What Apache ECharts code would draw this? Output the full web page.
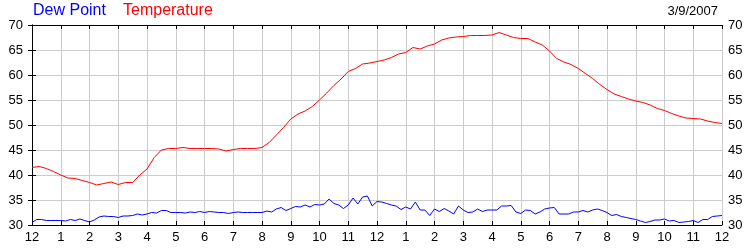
<!DOCTYPE html>
<html>
<head>
<meta charset="utf-8">
<script src="https://cdn.jsdelivr.net/npm/echarts@6/dist/echarts.min.js"></script>
<style>html,body{margin:0;padding:0;background:#fff}#c{width:750px;height:250px}</style>
</head>
<body>
<div id="c"></div>
<script>
// Hours of the day 0..24 (midnight to midnight), tick labels
const hourTicks = ['12','1','2','3','4','5','6','7','8','9','10','11','12','1','2','3','4','5','6','7','8','9','10','11','12'];
const yTicks = [30,35,40,45,50,55,60,65,70];
const dateLabel = '3/9/2007';
const seriesNames = ['Dew Point', 'Temperature'];

// Temperature, one reading every 15 minutes from 12 AM
const tempStepHours = 0.25;
const temperature = [
  41.5,41.7,41.3,40.7,40.0,39.4,39.3,38.9,38.5,38.0,38.3,38.6,38.1,38.5,38.5,40.0,
  41.2,43.5,45.0,45.3,45.3,45.5,45.3,45.3,45.3,45.3,45.2,44.8,45.1,45.3,45.3,45.3,
  45.5,46.5,48.0,49.5,51.2,52.2,52.8,53.7,55.0,56.4,57.9,59.2,60.7,61.3,62.2,62.4,
  62.7,63.0,63.5,64.2,64.5,65.5,65.2,65.8,66.2,67.0,67.4,67.6,67.7,67.9,67.9,67.9,
  68.0,68.5,68.0,67.5,67.3,67.3,66.6,66.0,64.8,63.3,62.6,62.1,61.3,60.3,59.3,58.1,
  57.1,56.2,55.7,55.2,54.8,54.5,54.0,53.3,52.9,52.3,51.8,51.4,51.3,51.2,50.8,50.5,
  50.3
];

// Dew point, one reading every 10 minutes from 12 AM
const dewStepHours = 1/6;
const dewPoint = [
  30.5,31.1,31.1,30.9,30.9,30.9,30.9,30.8,31.1,30.9,31.2,30.9,
  30.6,31.0,31.6,31.8,31.7,31.7,31.5,31.8,31.8,31.9,32.2,32.0,
  32.2,32.5,32.4,32.9,32.9,32.5,32.5,32.5,32.4,32.6,32.5,32.7,
  32.5,32.7,32.6,32.5,32.5,32.3,32.5,32.6,32.5,32.5,32.5,32.5,
  32.5,32.8,32.6,33.2,33.5,32.9,33.3,33.7,33.6,34.0,33.6,34.1,
  34.0,34.2,35.2,34.3,34.0,33.3,34.0,35.4,34.2,35.6,35.8,33.8,
  34.7,34.6,34.3,34.0,33.8,33.1,33.6,33.2,34.6,33.0,33.0,31.9,
  33.2,32.7,33.3,32.8,32.2,33.8,33.0,32.5,32.6,33.2,32.7,33.0,
  33.0,33.0,33.8,33.8,33.9,32.6,32.3,33.0,32.9,32.2,32.6,33.2,
  33.4,33.5,32.2,32.2,32.2,32.6,32.6,32.9,32.6,33.0,33.2,32.9,
  32.5,31.9,32.1,31.7,31.5,31.3,31.1,30.8,30.5,30.7,31.0,31.0,
  31.2,30.8,30.9,30.5,30.6,30.7,30.9,30.5,31.1,31.1,31.7,31.8,
  31.9
];

const FONT = 'Liberation Sans, Arial, sans-serif';
const chart = echarts.init(document.getElementById('c'), null, {renderer: 'canvas'});

const axisLine = {show: true, lineStyle: {color: '#000', width: 1}};
const tickIn = {show: true, inside: true, length: 4, lineStyle: {color: '#000'}};
const grayGrid = {show: true, lineStyle: {color: '#cccccc', width: 1}};

chart.setOption({
  animation: false,
  backgroundColor: '#fff',
  grid: {left: 32, right: 28, top: 25, bottom: 25, containLabel: false},
  graphic: [
    {type: 'text', left: 33, top: 3, style: {text: seriesNames[0], fill: '#0000ff', font: '16px ' + FONT}},
    {type: 'text', left: 123, top: 3, style: {text: seriesNames[1], fill: '#ff0000', font: '16px ' + FONT}},
    {type: 'text', right: 32, top: 5, style: {text: dateLabel, fill: '#000', font: '13px ' + FONT}}
  ],
  xAxis: [
    {
      type: 'value', position: 'bottom', min: 0, max: 24, interval: 1,
      axisLine: axisLine, axisTick: tickIn, splitLine: grayGrid,
      axisLabel: {color: '#000', fontSize: 13, fontFamily: FONT, margin: 6,
        formatter: v => hourTicks[Math.round(v)]}
    },
    {
      type: 'value', position: 'top', min: 0, max: 24, interval: 1,
      axisLine: axisLine, axisTick: tickIn, splitLine: {show: false},
      axisLabel: {show: false}
    }
  ],
  yAxis: [
    {
      type: 'value', position: 'left', min: yTicks[0], max: yTicks[yTicks.length-1], interval: 5,
      axisLine: axisLine, axisTick: tickIn, splitLine: grayGrid,
      axisLabel: {color: '#000', fontSize: 13, fontFamily: FONT, margin: 9}
    },
    {
      type: 'value', position: 'right', min: yTicks[0], max: yTicks[yTicks.length-1], interval: 5,
      axisLine: axisLine, axisTick: tickIn, splitLine: {show: false},
      axisLabel: {color: '#000', fontSize: 13, fontFamily: FONT, margin: 6}
    }
  ],
  series: [
    {
      name: seriesNames[0], type: 'line', showSymbol: false, symbol: 'none',
      lineStyle: {color: '#0000ff', width: 1}, itemStyle: {color: '#0000ff'},
      data: dewPoint.map((v, i) => [i * dewStepHours, v]), z: 3
    },
    {
      name: seriesNames[1], type: 'line', showSymbol: false, symbol: 'none',
      lineStyle: {color: '#ff0000', width: 1}, itemStyle: {color: '#ff0000'},
      data: temperature.map((v, i) => [i * tempStepHours, v]), z: 3
    }
  ]
});
</script>
</body>
</html>
